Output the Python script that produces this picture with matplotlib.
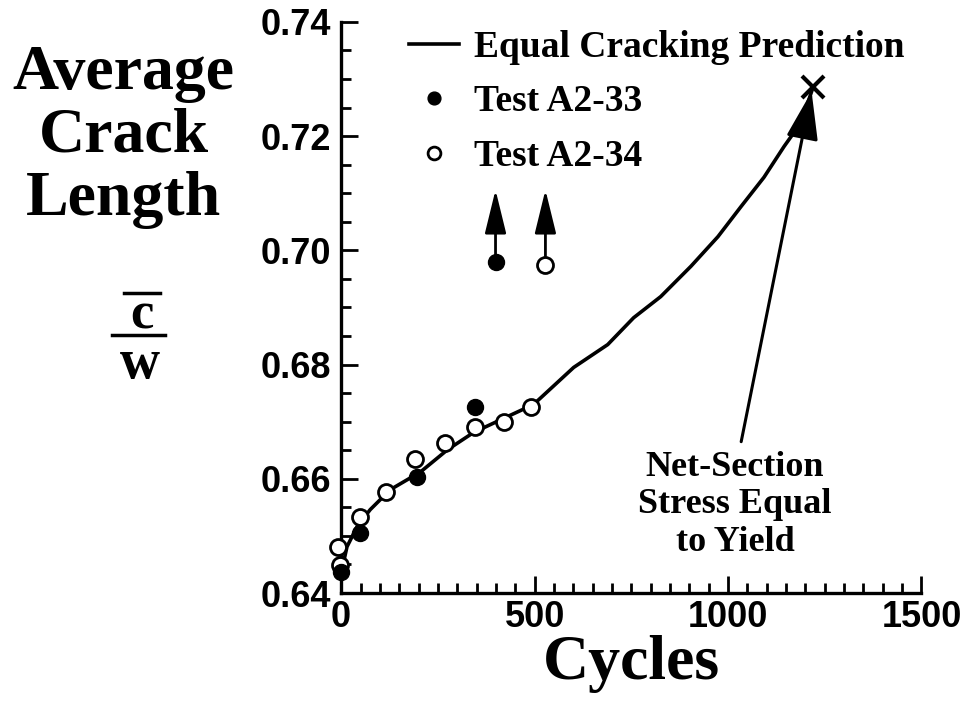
import matplotlib
matplotlib.use("Agg")
import matplotlib.pyplot as plt
from matplotlib.lines import Line2D
from matplotlib.ticker import MultipleLocator

# prediction curve
curve_cycles = [0, 15, 41, 75, 127, 205, 275, 342, 430, 497, 601, 689, 756,
                826, 904, 974, 1034, 1093, 1145, 1189, 1220]
curve_ratio = [0.6435, 0.6481, 0.6516, 0.6546, 0.6581, 0.6612, 0.6651, 0.6681,
               0.6709, 0.6730, 0.6795, 0.6835, 0.6882, 0.6919, 0.6972, 0.7024,
               0.7077, 0.7128, 0.7182, 0.7224, 0.7286]

# test A2-33 (filled)
a33_cycles = [0, 49, 197, 345]
a33_ratio = [0.6437, 0.6505, 0.6604, 0.6725]
a33_runout = (399, 0.6979)

# test A2-34 (open)
a34_cycles = [-7, -4, 49, 117, 192, 269, 345, 420, 490]
a34_ratio = [0.6481, 0.6449, 0.6533, 0.6577, 0.6635, 0.6663, 0.6690, 0.6700, 0.6725]
a34_runout = (528, 0.6975)
runout_top = 0.7106

yield_point = (1220, 0.7286)

serif = "Liberation Serif"
sans = "Liberation Sans"

fig = plt.figure(figsize=(9.72, 7.06), dpi=100)
ax = fig.add_axes([0.351, 0.160, 0.597, 0.809])

ax.plot(curve_cycles, curve_ratio, color="black", lw=2.6, label="Equal Cracking Prediction",
        clip_on=False, zorder=2)
ax.plot(a34_cycles, a34_ratio, "o", ms=11.5, mfc="white", mec="black", mew=2,
        clip_on=False, zorder=3, label="Test A2-34")
ax.plot(a33_cycles, a33_ratio, "o", ms=11.5, mfc="black", mec="black",
        clip_on=False, zorder=4, label="Test A2-33")

# run-out points with arrows
ax.plot(*a33_runout, "o", ms=11.5, mfc="black", mec="black", zorder=4)
ax.plot(*a34_runout, "o", ms=11.5, mfc="white", mec="black", mew=2, zorder=4)
for px, py in (a33_runout, a34_runout):
    ax.annotate("", xy=(px, runout_top), xytext=(px, py),
                arrowprops=dict(arrowstyle="-|>,head_length=1.35,head_width=0.33",
                                mutation_scale=20, color="black", lw=2,
                                shrinkA=6, shrinkB=0))

ax.plot(*yield_point, marker="x", ms=16, mew=3, color="black", clip_on=False, zorder=5)
ax.annotate("", xy=(yield_point[0] - 4, yield_point[1] - 0.0008), xytext=(1034, 0.6665),
            arrowprops=dict(arrowstyle="-|>,head_length=1.5,head_width=0.5",
                            mutation_scale=20, color="black", lw=2.2,
                            shrinkA=0, shrinkB=0))
ax.text(1018, 0.6555, "Net-Section\nStress Equal\nto Yield", ha="center", va="center",
        family=serif, weight="bold", fontsize=26, linespacing=1.18)

ax.set_xlim(0, 1500)
ax.set_ylim(0.64, 0.74)
ax.xaxis.set_major_locator(MultipleLocator(500))
ax.xaxis.set_minor_locator(MultipleLocator(50))
ax.yaxis.set_major_locator(MultipleLocator(0.02))
ax.yaxis.set_minor_locator(MultipleLocator(0.005))
ax.set_yticklabels([f"{v:.2f}" for v in ax.get_yticks()])
for s in ("top", "right"):
    ax.spines[s].set_visible(False)
for s in ("left", "bottom"):
    ax.spines[s].set_linewidth(2.4)
ax.tick_params(which="both", direction="in", width=2)
ax.tick_params(which="major", length=12)
ax.tick_params(which="minor", length=7)
ax.tick_params(axis="y", pad=7)
ax.tick_params(axis="x", pad=5)
for lab in ax.get_xticklabels() + ax.get_yticklabels():
    lab.set_family(sans)
    lab.set_weight("bold")
    lab.set_fontsize(26)

ax.set_xlabel("Cycles", family=serif, weight="bold", fontsize=46, labelpad=0)

h, l = ax.get_legend_handles_labels()
order = [0, 2, 1]
leg = ax.legend([h[i] for i in order], [l[i] for i in order], loc="upper left",
                bbox_to_anchor=(0.058, 1.045), frameon=False, handlelength=1.35,
                handletextpad=0.4, labelspacing=0.52, markerscale=0.8,
                prop=dict(family=serif, weight="bold", size=27))

# y label block
for txt, yc in (("Average", 0.895), ("Crack", 0.806), ("Length", 0.717)):
    fig.text(0.127, yc, txt, ha="center", va="center", family=serif,
             weight="bold", fontsize=46)
fig.text(0.146, 0.553, "c", ha="center", va="center", family=serif,
         weight="bold", fontsize=38)
fig.text(0.144, 0.484, "w", ha="center", va="center", family=serif,
         weight="bold", fontsize=40)
fig.add_artist(Line2D([0.128, 0.165], [0.585, 0.585], color="black", lw=2.5,
                      transform=fig.transFigure))
fig.add_artist(Line2D([0.115, 0.170], [0.525, 0.525], color="black", lw=2.5,
                      transform=fig.transFigure))

fig.savefig("out.png", dpi=100)
